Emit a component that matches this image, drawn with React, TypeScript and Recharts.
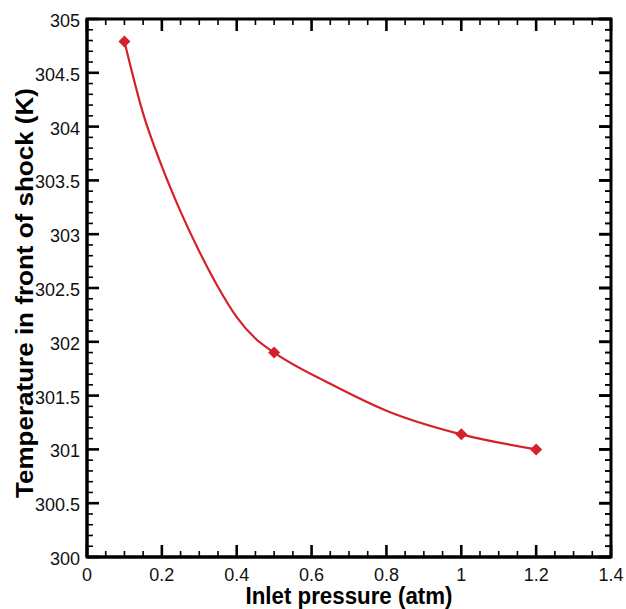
import React from 'react'
import { LineChart, Line, XAxis, YAxis, ReferenceArea } from 'recharts'

// measured points (diamond markers)
const pressure = [0.1, 0.5, 1.0, 1.2]
const temperature = [304.79, 301.9, 301.14, 301.0]

// extra points (no markers)
const curvePressure = [0.15, 0.2, 0.25, 0.3, 0.35, 0.4, 0.45, 0.65, 0.8]
const curveTemperature = [304.12, 303.63, 303.21, 302.84, 302.51, 302.23, 302.03, 301.61, 301.36]

const xMajorTicks = [0, 0.2, 0.4, 0.6, 0.8, 1, 1.2, 1.4]
const yMajorTicks = [300, 300.5, 301, 301.5, 302, 302.5, 303, 303.5, 304, 304.5, 305]
const xMinorPerMajor = 4
const yMinorPerMajor = 5

const X_DOMAIN = [0, 1.4]
const Y_DOMAIN = [300, 305]

const RED = '#d6202a'
const FONT = '"Liberation Sans", Arial, Helvetica, sans-serif'

const W = 626
const H = 609
const MARGIN = { top: 19, right: 15, bottom: 0, left: 0 }
const X_AXIS_H = 52
const Y_AXIS_W = 87
const PLOT_W = W - MARGIN.left - MARGIN.right - Y_AXIS_W

const data = [
  ...pressure.map((p, i) => ({ p, t: temperature[i], m: temperature[i] })),
  ...curvePressure.map((p, i) => ({ p, t: curveTemperature[i], m: null as number | null })),
].sort((a, b) => a.p - b.p)

// all tick positions: majors plus the small ones in between
const withMinors = (majors: number[], n: number) => {
  const out: number[] = []
  for (let i = 0; i < majors.length - 1; i++) {
    const step = (majors[i + 1] - majors[i]) / n
    for (let k = 0; k < n; k++) out.push(+(majors[i] + k * step).toFixed(4))
  }
  out.push(majors[majors.length - 1])
  return out
}
const xTicks = withMinors(xMajorTicks, xMinorPerMajor)
const yTicks = withMinors(yMajorTicks, yMinorPerMajor)

const isMajor = (v: number, majors: number[]) => majors.some((m) => Math.abs(m - v) < 1e-6)
const fmt = (v: number) => String(parseFloat(v.toFixed(2)))

const MAJOR_LEN = 12
const MINOR_LEN = 6

// tick marks on all four sides, placed through the chart scales
const tickMarks = [
  ...xTicks.map((v) => ({ p: v, y: Y_DOMAIN[0], side: 'b', major: isMajor(v, xMajorTicks) })),
  ...xTicks.map((v) => ({ p: v, y: Y_DOMAIN[1], side: 't', major: isMajor(v, xMajorTicks) })),
  ...yTicks.map((v) => ({ p: X_DOMAIN[0], y: v, side: 'l', major: isMajor(v, yMajorTicks) })),
  ...yTicks.map((v) => ({ p: X_DOMAIN[1], y: v, side: 'r', major: isMajor(v, yMajorTicks) })),
]

const TickMark = (props: any) => {
  const { cx, cy, index, payload } = props
  const len = payload.major ? MAJOR_LEN : MINOR_LEN
  const sw = payload.major ? 2.6 : 1.6
  let x2 = cx
  let y2 = cy
  if (payload.side === 'b') y2 = cy - len
  else if (payload.side === 't') y2 = cy + len
  else if (payload.side === 'l') x2 = cx + len
  else x2 = cx - len
  return <line key={`tm-${index}`} x1={cx} y1={cy} x2={x2} y2={y2} stroke="#000" strokeWidth={sw} />
}

const XTick = (props: any) => {
  const v = Number(props.payload.value)
  if (!isMajor(v, xMajorTicks)) return <g />
  return (
    <text x={Number(props.x)} y={Number(props.y) + 24} textAnchor="middle" fontSize={18} fontFamily={FONT} fill="#111">
      {fmt(v)}
    </text>
  )
}

const YTick = (props: any) => {
  const x = Number(props.x)
  const y = Number(props.y)
  const v = Number(props.payload.value)
  const major = isMajor(v, yMajorTicks)
  const right = x + PLOT_W
  return (
    <g>
      <line x1={right} y1={y} x2={right - (major ? MAJOR_LEN : MINOR_LEN)} y2={y} stroke="#000" strokeWidth={major ? 2.6 : 1.6} />
      {major && (
        <text x={x - 7} y={y + 8} textAnchor="end" fontSize={18} fontFamily={FONT} fill="#111">
          {fmt(v)}
        </text>
      )}
    </g>
  )
}

const XTitle = (props: any) => {
  const { x, y, width } = props.viewBox
  return (
    <text
      x={x + width / 2}
      y={y + 47}
      textAnchor="middle"
      fontSize={23}
      fontWeight="bold"
      fontFamily={FONT}
      fill="#000"
      textLength={207}
      lengthAdjust="spacingAndGlyphs"
    >
      Inlet pressure (atm)
    </text>
  )
}

const YTitle = (props: any) => {
  const { y, height } = props.viewBox
  const cx = 33
  const cy = y + height / 2 + 5
  return (
    <text
      x={cx}
      y={cy}
      transform={`rotate(-90 ${cx} ${cy})`}
      textAnchor="middle"
      fontSize={23}
      fontWeight="bold"
      fontFamily={FONT}
      fill="#000"
      textLength={410}
      lengthAdjust="spacingAndGlyphs"
    >
      Temperature in front of shock (K)
    </text>
  )
}

const Diamond = (props: any) => {
  const { cx, cy, index, value } = props
  if (value == null || cy == null || isNaN(cy)) return <g key={`d-${index}`} />
  const r = 6
  return (
    <path
      key={`d-${index}`}
      d={`M${cx},${cy - r}L${cx + r},${cy}L${cx},${cy + r}L${cx - r},${cy}Z`}
      fill={RED}
      stroke="none"
    />
  )
}

export default function App() {
  return (
    <div style={{ position: 'absolute', left: 0, top: 0, background: '#fff' }}>
      <LineChart width={W} height={H} data={data} margin={MARGIN}>
        <XAxis
          dataKey="p"
          type="number"
          domain={X_DOMAIN}
          ticks={xTicks}
          interval={0}
          height={X_AXIS_H}
          tickLine={false}
          tickSize={0}
          tickMargin={0}
          tick={XTick}
          axisLine={{ stroke: '#000', strokeWidth: 3 }}
          label={{ content: XTitle }}
        />
        <YAxis
          type="number"
          domain={Y_DOMAIN}
          ticks={yTicks}
          interval={0}
          width={Y_AXIS_W}
          tickLine={false}
          tickSize={0}
          tickMargin={0}
          tick={YTick}
          axisLine={{ stroke: '#000', strokeWidth: 3 }}
          label={{ content: YTitle }}
        />
        <ReferenceArea
          x1={X_DOMAIN[0]}
          x2={X_DOMAIN[1]}
          y1={Y_DOMAIN[0]}
          y2={Y_DOMAIN[1]}
          fill="none"
          fillOpacity={0}
          stroke="#000"
          strokeWidth={3}
          ifOverflow="visible"
        />
        <Line
          data={tickMarks}
          dataKey="y"
          stroke="none"
          dot={TickMark}
          activeDot={false}
          isAnimationActive={false}
        />
        <Line
          type="monotone"
          dataKey="t"
          stroke={RED}
          strokeWidth={2.2}
          dot={false}
          activeDot={false}
          isAnimationActive={false}
        />
        <Line dataKey="m" stroke="none" dot={Diamond} activeDot={false} isAnimationActive={false} />
      </LineChart>
    </div>
  )
}
